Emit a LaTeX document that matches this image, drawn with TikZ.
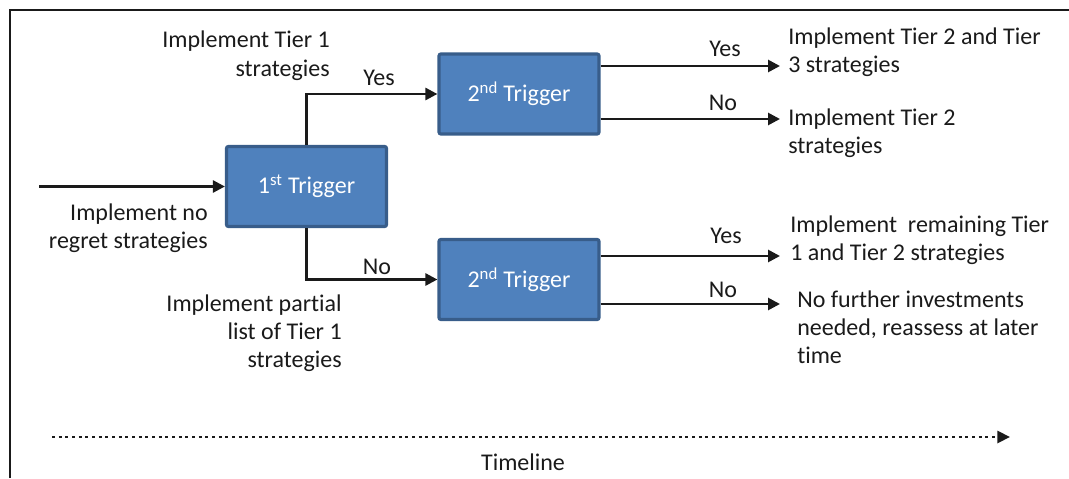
\documentclass[tikz,border=0pt]{standalone}
\usepackage{fontspec}
\setmainfont{Carlito}[Ligatures=NoCommon]
\usetikzlibrary{arrows.meta}
\definecolor{trigfill}{HTML}{4F81BD}
\definecolor{trigline}{HTML}{385D8A}
\definecolor{ink}{HTML}{1A1A1A}

\begin{document}
\begin{tikzpicture}[x=0.75pt,y=-0.75pt,
    font=\fontsize{18}{21}\selectfont,
    trig/.style={draw=trigline,fill=trigfill,line width=2.4pt,rounded corners=1.5pt,
        minimum width=120pt,minimum height=60pt,text=white,inner sep=0pt},
    link/.style={draw=ink,line width=2pt,-{Triangle[length=9pt,width=9pt]}},
    timeline/.style={draw=ink,line width=2.2pt,dash pattern=on 2.2pt off 2.8pt,
        -{Triangle[length=9.5pt,width=9pt]}},
    txt/.style={inner sep=0pt,text=ink},
    frame/.style={draw=ink,line width=1.5pt}]
  \useasboundingbox (0,0) rectangle (1069,478);
  \draw[frame] (10,478) -- (10,10) -- (1069,10);
  \node[trig] (T1) at (306.5,186.5) {1\textsuperscript{st} Trigger};
  \node[trig] (T2a) at (519,94) {2\textsuperscript{nd} Trigger};
  \node[trig] (T2b) at (519,279.5) {2\textsuperscript{nd} Trigger};
  \coordinate (S) at (39,186.5);
  \coordinate (Ya) at (780,66);
  \coordinate (Na) at (780,119);
  \coordinate (Yb) at (780,256);
  \coordinate (Nb) at (780,304);
  \coordinate (L0) at (52,437);
  \coordinate (L1) at (1010,437);
  \draw[link] (S) -- (T1);
  \draw[link] (T1.north) |- (T2a.west);
  \draw[link] (T1.south) |- (T2b.west);
  \draw[link] (T2a.east |- Ya) -- (Ya);
  \draw[link] (T2a.east |- Na) -- (Na);
  \draw[link] (T2b.east |- Yb) -- (Yb);
  \draw[link] (T2b.east |- Nb) -- (Nb);
  \draw[timeline] (L0) -- (L1);
  \node[txt,anchor=base] (y1) at (379,85) {Yes};
  \node[txt,anchor=base] (n1) at (377,274) {No};
  \node[txt,anchor=base] (y2) at (725,57) {Yes};
  \node[txt,anchor=base] (n2) at (723,110) {No};
  \node[txt,anchor=base] (y3) at (726,243) {Yes};
  \node[txt,anchor=base] (n3) at (723,297) {No};
  \node[txt,anchor=base east,align=right] (P0) at (208,248) {Implement no\\regret strategies};
  \node[txt,anchor=base east,align=right] (P1) at (330,76) {Implement Tier 1\\strategies};
  \node[txt,anchor=base east,align=right] (P2) at (342,367) {Implement partial\\list of Tier 1\\strategies};
  \node[txt,anchor=base west,align=left] (R1) at (788,73) {Implement Tier 2 and Tier\\3 strategies};
  \node[txt,anchor=base west,align=left] (R2) at (788,153) {Implement Tier 2\\strategies};
  \node[txt,anchor=base west,align=left] (R3) at (790,260) {Implement~ remaining Tier\\1 and Tier 2 strategies};
  \node[txt,anchor=base west,align=left] (R4) at (797,363) {No further investments\\needed, reassess at later\\time};
  \node[txt,anchor=base] (TL) at (523,470) {Timeline};
\end{tikzpicture}
\end{document}
